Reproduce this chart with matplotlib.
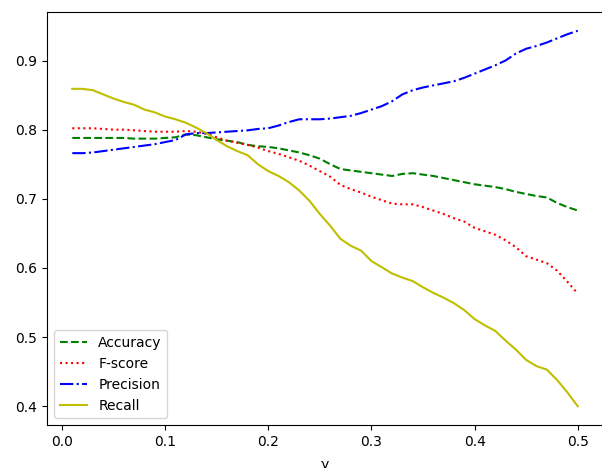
import matplotlib
matplotlib.use("Agg")
import matplotlib.pyplot as plt
import numpy as np

gamma = [round(0.01 * k, 2) for k in range(1, 51)]

accuracy = [0.788, 0.788, 0.788, 0.788, 0.788, 0.788, 0.787, 0.787, 0.787, 0.788,
            0.789, 0.793, 0.792, 0.789, 0.786, 0.784, 0.782, 0.778, 0.776, 0.775,
            0.773, 0.770, 0.767, 0.763, 0.758, 0.750, 0.743, 0.741, 0.739, 0.737,
            0.735, 0.733, 0.736, 0.737, 0.735, 0.733, 0.730, 0.727, 0.724, 0.721,
            0.719, 0.717, 0.714, 0.710, 0.707, 0.704, 0.702, 0.694, 0.688, 0.683]

fscore = [0.802, 0.802, 0.802, 0.801, 0.800, 0.800, 0.799, 0.798, 0.797, 0.797,
          0.797, 0.798, 0.797, 0.794, 0.789, 0.784, 0.781, 0.778, 0.774, 0.769,
          0.765, 0.760, 0.755, 0.748, 0.740, 0.732, 0.720, 0.714, 0.709, 0.703,
          0.698, 0.693, 0.692, 0.692, 0.688, 0.683, 0.678, 0.672, 0.667, 0.658,
          0.653, 0.648, 0.640, 0.630, 0.617, 0.612, 0.607, 0.596, 0.580, 0.563]

precision = [0.766, 0.766, 0.767, 0.769, 0.771, 0.773, 0.775, 0.777, 0.779, 0.782,
             0.785, 0.793, 0.795, 0.795, 0.796, 0.797, 0.798, 0.799, 0.801, 0.802,
             0.806, 0.811, 0.815, 0.815, 0.815, 0.816, 0.818, 0.820, 0.824, 0.829,
             0.834, 0.841, 0.851, 0.857, 0.861, 0.864, 0.867, 0.870, 0.875, 0.881,
             0.887, 0.893, 0.900, 0.910, 0.917, 0.921, 0.926, 0.932, 0.938, 0.943]

recall = [0.859, 0.859, 0.857, 0.851, 0.845, 0.840, 0.836, 0.829, 0.825, 0.819,
          0.815, 0.810, 0.803, 0.795, 0.785, 0.776, 0.769, 0.763, 0.750, 0.740,
          0.733, 0.724, 0.712, 0.697, 0.678, 0.661, 0.642, 0.632, 0.625, 0.610,
          0.601, 0.592, 0.586, 0.581, 0.572, 0.564, 0.557, 0.549, 0.539, 0.526,
          0.517, 0.509, 0.495, 0.482, 0.467, 0.458, 0.453, 0.438, 0.420, 0.400]

fig = plt.figure(figsize=(6.02, 4.68), dpi=100)
ax = fig.add_axes([47 / 602, 43 / 468, 556 / 602, 413 / 468])
ax.plot(gamma, accuracy, 'g--', label='Accuracy')
ax.plot(gamma, fscore, 'r:', label='F-score')
ax.plot(gamma, precision, 'b-.', label='Precision')
ax.plot(gamma, recall, 'y-', label='Recall')
ax.set_xlabel('γ', labelpad=6.5)
ax.legend(loc='lower left')
fig.savefig('out.png', dpi=100)
